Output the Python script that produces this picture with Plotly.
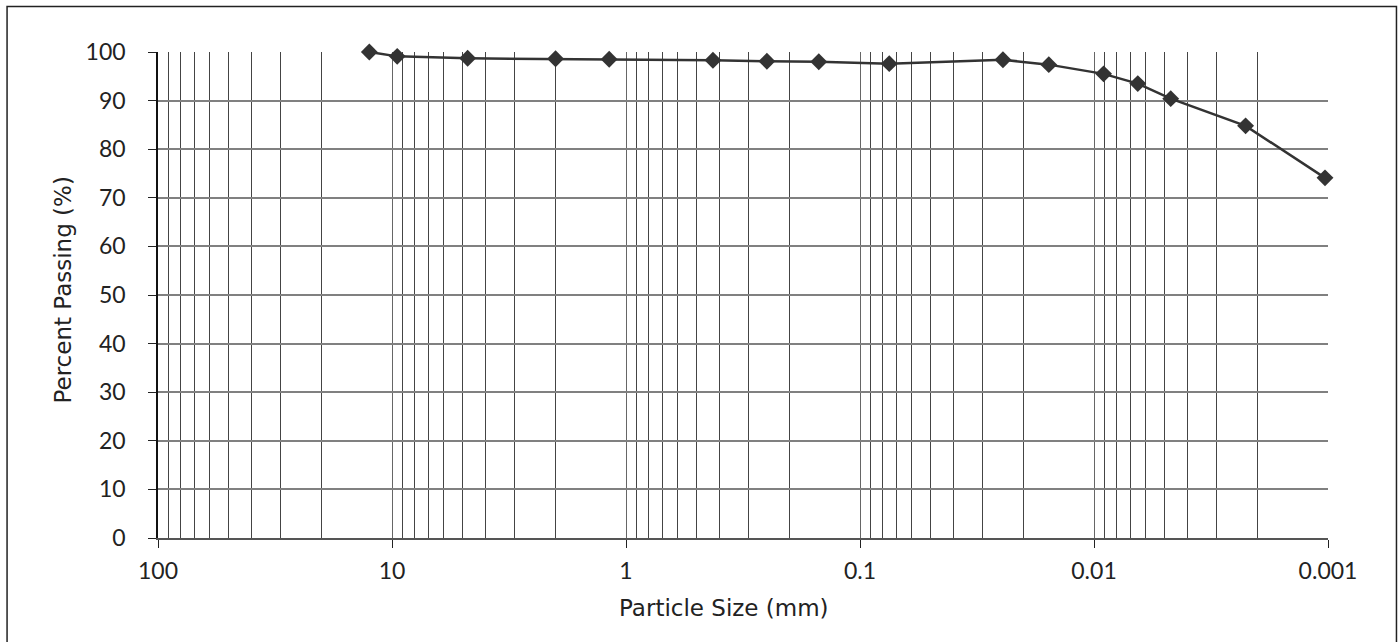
import plotly.graph_objects as go

# Data
particle_size_mm = [12.5, 9.5, 4.75, 2.0, 1.18, 0.425, 0.25, 0.15, 0.075,
                    0.0245, 0.0156, 0.0091, 0.0065, 0.0047, 0.00225, 0.00103]
percent_passing = [100.0, 99.1, 98.7, 98.6, 98.5, 98.3, 98.1, 98.0, 97.6,
                   98.4, 97.4, 95.5, 93.5, 90.4, 84.8, 74.1]

x_major_vals = [100, 10, 1, 0.1, 0.01, 0.001]
x_major_text = ["100", "10", "1", "0.1", "0.01", "0.001"]
x_minor_vals = [m * 10 ** k for k in range(-3, 2) for m in range(2, 10)]
y_tick_vals = list(range(0, 101, 10))

TICK_FONT = "Lato, 'DejaVu Sans', sans-serif"
TITLE_FONT = "'DejaVu Sans', sans-serif"
W, H = 1400, 642
L, R, T, B = 157.5, 1328, 52, 538


def px_to_paper_x(px):
    return (px - L) / (R - L)


def px_to_paper_y(py):
    return (B - py) / (B - T)


fig = go.Figure()
fig.add_trace(go.Scatter(
    x=particle_size_mm, y=percent_passing, mode="lines+markers",
    line=dict(color="#333333", width=2.5),
    marker=dict(symbol="diamond", size=13, color="#333333"),
    showlegend=False, cliponaxis=False,
))

fig.update_layout(
    width=W, height=H,
    margin=dict(l=L, r=W - R, t=T, b=H - B, pad=0),
    paper_bgcolor="white", plot_bgcolor="white",
    font=dict(family=TICK_FONT, size=23, color="#222222"),
    xaxis=dict(
        type="log", range=[2, -3],
        tickmode="array", tickvals=x_major_vals, ticktext=x_major_text,
        ticks="outside", ticklen=8, tickcolor="#222222", tickwidth=1,
        showgrid=True, gridcolor="#666666", gridwidth=1.2,
        minor=dict(tickmode="array", tickvals=x_minor_vals, showgrid=True,
                   gridcolor="#444444", gridwidth=1, ticks=""),
        showline=True, linecolor="#555555", linewidth=1.5,
        zeroline=False, ticklabelstandoff=4,
    ),
    yaxis=dict(
        range=[0, 100], tickmode="array", tickvals=y_tick_vals,
        ticks="outside", ticklen=8, tickcolor="#222222", tickwidth=1,
        showgrid=True, gridcolor="#808080", gridwidth=1.5,
        showline=True, linecolor="#111111", linewidth=1.5,
        zeroline=False, ticklabelstandoff=18,
    ),
    annotations=[
        dict(text="Particle Size (mm)", xref="paper", yref="paper",
             x=px_to_paper_x(724), y=px_to_paper_y(608), showarrow=False,
             xanchor="center", yanchor="middle",
             font=dict(family=TITLE_FONT, size=23, color="#222222")),
        dict(text="Percent Passing (%)", xref="paper", yref="paper",
             x=px_to_paper_x(62), y=px_to_paper_y(290), showarrow=False,
             xanchor="center", yanchor="middle", textangle=-90,
             font=dict(family=TITLE_FONT, size=23, color="#222222")),
    ],
)

# outer chart border
fig.add_shape(type="rect", xref="paper", yref="paper",
              x0=px_to_paper_x(6.5), x1=px_to_paper_x(1396.5),
              y0=px_to_paper_y(660), y1=px_to_paper_y(6.5),
              line=dict(color="#222222", width=1.5), layer="below")

fig.write_html(
    "out.html",
    config={"displayModeBar": False},
    post_script="document.body.style.margin='0';document.body.style.padding='0';",
)
